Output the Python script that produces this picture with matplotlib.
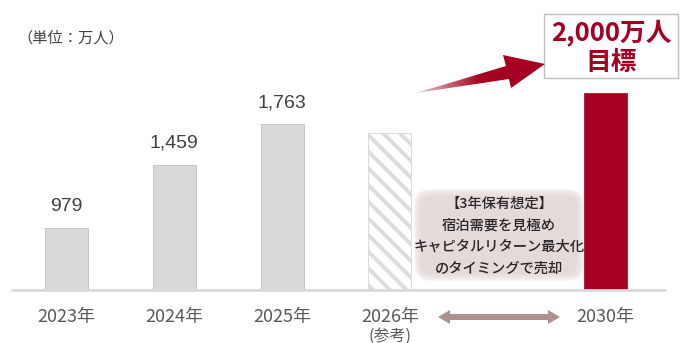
import matplotlib
matplotlib.use('Agg')
import matplotlib.pyplot as plt
import numpy as np
from matplotlib.patches import FancyBboxPatch, Polygon, Rectangle
from matplotlib import transforms as mtrans

plt.rcParams['font.family'] = ['Noto Sans CJK JP', 'DejaVu Sans']
plt.rcParams['hatch.linewidth'] = 2.8

# ---- data ----
years = ['2023年', '2024年', '2025年', '2026年', '2030年']
slots = [0, 1, 2, 3, 5]
visitors = [979, 1459, 1763, 1700, 2000]
value_labels = ['979', '1,459', '1,763', '', '']
kinds = ['actual', 'actual', 'actual', 'reference', 'target']
unit_label = '（単位：万人）'
ref_note = '(参考)'
target_label = ['2,000万人', '目標']
note_lines = ['【3年保有想定】', '宿泊需要を見極め', 'キャピタルリターン最大化', 'のタイミングで売却']

W, H = 683, 343
fig = plt.figure(figsize=(W / 100, H / 100), dpi=100)
ax = fig.add_axes([12 / W, 53 / H, 653 / W, 270 / H])
ax.set_xlim(-0.506, 5.552)
ax.set_ylim(510, 2552)
for s in ['top', 'left', 'right']:
    ax.spines[s].set_visible(False)
ax.spines['bottom'].set_color('#D9D9D9')
ax.spines['bottom'].set_linewidth(2)
ax.set_xticks([])
ax.set_yticks([])

RED = '#A50021'
for x, v, k, lbl in zip(slots, visitors, kinds, value_labels):
    if k == 'actual':
        ax.bar(x, v, width=0.4, color='#D9D9D9', edgecolor='#C6C6C6', linewidth=0.7)
    elif k == 'reference':
        ax.bar(x, v, width=0.4, color='white', edgecolor='#DCDCDC', linewidth=0.8, hatch='\\\\')
    else:
        ax.bar(x, v, width=0.4, color=RED, edgecolor=RED, linewidth=0.5)
    if lbl:
        ax.annotate(lbl, (x, v), xytext=(0, 15.5), textcoords='offset points',
                    ha='center', va='center', fontsize=14, color='#404040',
                    family='Liberation Sans')

# ---- overlay in pixel coordinates ----
ov = fig.add_axes([0, 0, 1, 1], zorder=5)
ov.set_xlim(0, W)
ov.set_ylim(H, 0)
ov.axis('off')

tr = mtrans.blended_transform_factory(ax.transData, ov.transData)
for x, yl in zip(slots, years):
    ov.text(x, 317, yl, transform=tr, ha='center', va='center', fontsize=13, color='#595959')
ov.text(slots[3], 336, ref_note, transform=tr, ha='center', va='center', fontsize=11.5, color='#595959')

ov.text(71, 38, unit_label, ha='center', va='center', fontsize=11, color='#404040')

# target box
ov.add_patch(Rectangle((544, 14), 134, 64, facecolor='white', edgecolor='#BFBFBF', linewidth=1))
ov.text(611, 33, target_label[0], ha='center', va='center', fontsize=18.5, fontweight='bold', color=RED)
ov.text(611, 63, target_label[1], ha='center', va='center', fontsize=18.5, fontweight='bold', color=RED)

# gradient arrow
pts = [(416, 93), (506, 66), (503, 55), (545, 64), (511, 88), (509, 79)]
poly = Polygon(pts, closed=True, facecolor='none', edgecolor='none')
ov.add_patch(poly)
xs = np.linspace(410, 550, 300)
alpha = 0.2 + 0.8 * np.clip((xs - 416) / (480 - 416), 0, 1)
grad = np.zeros((2, xs.size, 4))
grad[..., 0] = 165 / 255
grad[..., 1] = 0
grad[..., 2] = 33 / 255
grad[..., 3] = alpha
im = ov.imshow(grad, extent=(410, 550, 100, 50), interpolation='bilinear', zorder=6)
im.set_clip_path(poly)
ov.set_xlim(0, W)
ov.set_ylim(H, 0)
ov.set_aspect('auto')

# note box with soft edges
for i in range(7, 0, -1):
    ov.add_patch(FancyBboxPatch((421, 196), 156, 78,
                                boxstyle=f'round,pad={i},rounding_size={10 + i}',
                                facecolor='#E4DAD9', edgecolor='none', alpha=0.22, zorder=3))
ov.add_patch(FancyBboxPatch((421, 196), 156, 78, boxstyle='round,pad=0,rounding_size=10',
                            facecolor='#E4DAD9', edgecolor='none', zorder=3))
for yy, line in zip([204, 225.5, 247, 268.5], note_lines):
    ov.text(499, yy, line, ha='center', va='center', fontsize=10.3, fontweight='medium',
            color='#262626', zorder=7)

# double arrow
y0, x1, x2 = 317, 438, 560
darrow = [(x1, y0), (x1 + 12, y0 - 7), (x1 + 12, y0 - 3), (x2 - 12, y0 - 3), (x2 - 12, y0 - 7),
          (x2, y0), (x2 - 12, y0 + 7), (x2 - 12, y0 + 3), (x1 + 12, y0 + 3), (x1 + 12, y0 + 7)]
ov.add_patch(Polygon(darrow, closed=True, facecolor='#B0908C', edgecolor='none'))

fig.savefig('out.png', dpi=100)
